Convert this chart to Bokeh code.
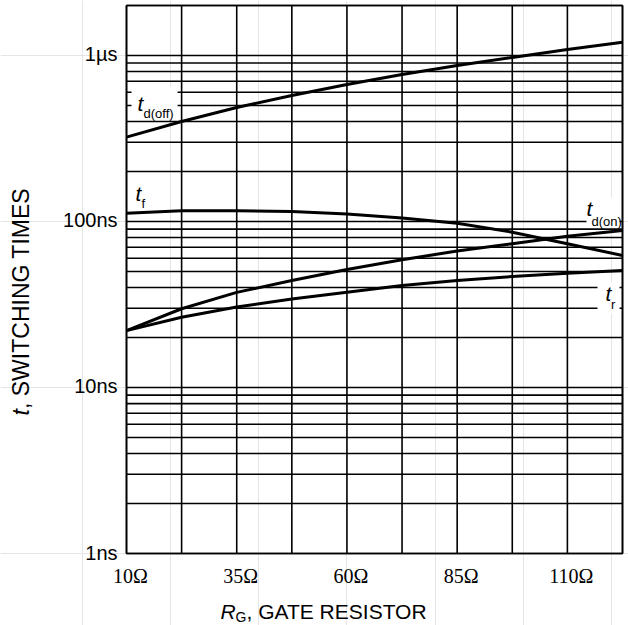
import math
from bokeh.plotting import figure
from bokeh.models import Label, Range1d
from bokeh.core.properties import value
from bokeh.embed import file_html
from bokeh.resources import INLINE

# ---- data ----
r_gate = [10, 22.5, 35, 47.5, 60, 72.5, 85, 97.5, 110, 122.5]          # ohm
t_doff_ns = [322, 400, 486, 574, 669, 768, 871, 973, 1087, 1200]
t_f_ns = [112, 116, 116, 115, 111, 105, 97.5, 86.2, 73.5, 62.4]
t_don_ns = [22.0, 29.8, 37.4, 44.1, 51.4, 58.8, 66.4, 73.4, 81.5, 88.3]
t_r_ns = [22.0, 26.5, 30.5, 34.1, 37.5, 41.2, 44.1, 46.6, 48.8, 50.7]

x_major = [10, 35, 60, 85, 110]
x_labels = ["10Ω", "35Ω", "60Ω", "85Ω", "110Ω"]
x_minor = [22.5, 47.5, 72.5, 97.5, 122.5]
y_major = [1e-9, 1e-8, 1e-7, 1e-6]
y_labels = ["1ns", "10ns", "100ns", "1µs"]
y_minor = [m * d for d in (1e-9, 1e-8, 1e-7, 1e-6) for m in range(2, 10) if m * d <= 2e-6]

X_MIN, X_MAX = 10, 122.5
Y_MIN, Y_MAX = 1e-9, 2e-6

# ---- layout (canvas pixels) ----
CANVAS_W, CANVAS_H = 628, 625
BOX_L, BOX_R, BOX_T, BOX_B = 126, 622, 5, 553

x_per_px = (X_MAX - X_MIN) / (BOX_R - BOX_L)
lpp = (math.log10(Y_MAX) - math.log10(Y_MIN)) / (BOX_B - BOX_T)
x_start = X_MIN - BOX_L * x_per_px
x_end = X_MAX + (CANVAS_W - BOX_R) * x_per_px
y_start = 10 ** (math.log10(Y_MIN) - (CANVAS_H - BOX_B) * lpp)
y_end = 10 ** (math.log10(Y_MAX) + BOX_T * lpp)

# canvas pixel -> data (for placing annotations)
def rx(px):
    return X_MIN + (px - BOX_L) * x_per_px

def ry(py):
    return 10 ** (math.log10(Y_MIN) + (BOX_B - py) * lpp)

p = figure(width=CANVAS_W, height=CANVAS_H,
           x_range=Range1d(x_start, x_end), y_range=Range1d(y_start, y_end),
           y_axis_type="log", x_axis_location=None, y_axis_location=None,
           output_backend="svg", toolbar_location=None,
           min_border=0, min_border_left=0, min_border_right=0,
           min_border_top=0, min_border_bottom=0)
p.background_fill_color = "white"
p.border_fill_color = "white"
p.outline_line_color = None

GRID_W = 1.6

# grid lines (from tick arrays)
gx = x_major + x_minor
p.segment(x0=gx, y0=[Y_MIN] * len(gx), x1=gx, y1=[Y_MAX] * len(gx),
          line_color="black", line_width=GRID_W)
gy = y_major + y_minor
p.segment(x0=[X_MIN] * len(gy), y0=gy, x1=[X_MAX] * len(gy), y1=gy,
          line_color="black", line_width=GRID_W)

# white masks behind curve labels
mask_left = [rx(131), rx(586), rx(597)]
mask_right = [rx(177), rx(619), rx(619)]
mask_top = [ry(86), ry(197), ry(282)]
mask_bottom = [ry(119), ry(226), ry(313)]
p.quad(left=mask_left, right=mask_right, top=mask_top, bottom=mask_bottom,
       fill_color="white", line_color=None)

# frame
p.quad(left=[X_MIN], right=[X_MAX], bottom=[Y_MIN], top=[Y_MAX],
       fill_color=None, line_color="black", line_width=GRID_W)

# curves
for series in (t_doff_ns, t_f_ns, t_don_ns, t_r_ns):
    p.line(r_gate, [v * 1e-9 for v in series], line_color="black", line_width=3,
           line_join="round")

# tick labels
p.text(x=x_major, y=[ry(575)] * len(x_major), text=x_labels,
       text_font=value("Liberation Serif"), text_font_size=value("20px"),
       text_color="black", text_align="center", text_baseline="middle", x_offset=4)
p.text(x=[rx(117)] * len(y_major), y=y_major, text=y_labels,
       text_font=value("Liberation Sans"), text_font_size=value("20px"),
       text_color="black", text_align="right", text_baseline="middle", y_offset=-1)

def add_label(text, px, py, size, italic=False, angle=0.0):
    # (px, py): left end / vertical middle of the text, in canvas pixels
    p.add_layout(Label(x=rx(px), y=ry(py), text=text, text_font="Liberation Sans",
                       text_font_size=size, text_font_style="italic" if italic else "normal",
                       text_color="black", text_align="left", text_baseline="middle",
                       angle=angle))

# curve labels
add_label("t", 137, 103, "21px", italic=True)
add_label("d(off)", 143, 112.5, "13px")
add_label("t", 135, 193, "21px", italic=True)
add_label("f", 141, 203, "13px")
add_label("t", 586, 208, "21px", italic=True)
add_label("d(on)", 591, 220.5, "13px")
add_label("t", 605, 292.5, "21px", italic=True)
add_label("r", 610.5, 303.5, "13px")

# axis titles
add_label("R", 220, 611, "21px", italic=True)
add_label("G", 235, 616, "14px")
add_label(", GATE RESISTOR", 246, 611, "21px")
add_label("t", 20, 415, "23px", italic=True, angle=math.pi / 2)
add_label(", SWITCHING TIMES", 20, 408.5, "23px", angle=math.pi / 2)

open("out.html", "w").write(file_html(p, INLINE))
